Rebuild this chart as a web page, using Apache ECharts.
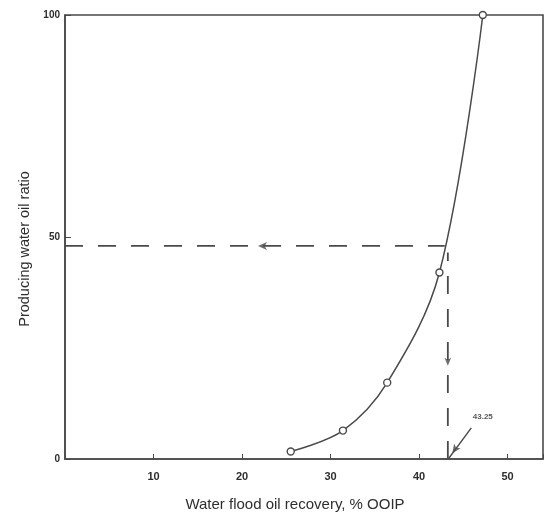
<!DOCTYPE html>
<html>
<head>
<meta charset="utf-8">
<script src="https://cdn.jsdelivr.net/npm/echarts@6/dist/echarts.min.js"></script>
<style>
html,body{margin:0;padding:0;background:#fff;}
#chart{width:547px;height:517px;}
</style>
</head>
<body>
<div id="chart"></div>
<script>
// Data
var recovery = [25.5, 31.4, 36.4, 42.3, 47.2];      // % OOIP
var wor = [1.7, 6.4, 17.2, 42.0, 100];              // producing water oil ratio
var xTicks = [10, 20, 30, 40, 50];
var yTicks = [0, 50, 100];
var readWOR = 48;                                   // dashed read-off level
var readRecovery = 43.25;                           // dashed read-off recovery
var hLine = [[0, readWOR], [42.9, readWOR]];
var vLine = [[readRecovery, 0], [readRecovery, 46.5]];
var annotText = '43.25';
var annotPos = [47.2, 9.4];
var annotLine = [[45.9, 7.0], [43.3, 0.0]];
var annotHead = [43.75, 1.3];
var hArrow = [21.8, readWOR];
var vArrow = [readRecovery, 21.0];

var ink = '#4a4a4a';
var txt = '#2e2e2e';
var chart = echarts.init(document.getElementById('chart'));
chart.setOption({
  backgroundColor: '#ffffff',
  animation: false,
  grid: {left: 65, right: 4, top: 15, bottom: 56, show: true, borderColor: ink, borderWidth: 1.6, backgroundColor: 'transparent'},
  xAxis: {
    type: 'value', min: 0, max: 54, interval: 10,
    name: 'Water flood oil recovery, % OOIP', nameLocation: 'middle', nameGap: 38,
    nameTextStyle: {fontFamily: 'Liberation Sans, Arial', fontSize: 15, color: txt, padding: [0, 18, 0, 0]},
    axisLine: {show: true, lineStyle: {color: ink, width: 1.6}},
    axisTick: {show: true, inside: true, length: 5, lineStyle: {color: ink}},
    splitLine: {show: false},
    axisLabel: {margin: 12, fontFamily: 'Liberation Sans, Arial', fontSize: 11, fontWeight: 'bold', color: txt,
      formatter: function (v) { return xTicks.indexOf(v) >= 0 ? String(v) : ''; }}
  },
  yAxis: {
    type: 'value', min: 0, max: 100, interval: 50,
    name: 'Producing water oil ratio', nameLocation: 'middle', nameGap: 33, nameRotate: 90,
    nameTextStyle: {fontFamily: 'Liberation Sans, Arial', fontSize: 14.5, color: txt, padding: [0, 24, 0, 0]},
    axisLine: {show: true, lineStyle: {color: ink, width: 1.6}},
    axisTick: {show: true, inside: true, length: 6, lineStyle: {color: ink}},
    splitLine: {show: false},
    axisLabel: {margin: 5, fontFamily: 'Liberation Sans, Arial', fontSize: 10, fontWeight: 'bold', color: txt,
      formatter: function (v) { return yTicks.indexOf(v) >= 0 ? String(v) : ''; }}
  },
  series: [
    {
      type: 'line', data: recovery.map(function (x, i) { return [x, wor[i]]; }),
      smooth: 0.35, symbol: 'circle', symbolSize: 7, showAllSymbol: true,
      itemStyle: {color: '#ffffff', borderColor: ink, borderWidth: 1.4},
      lineStyle: {color: ink, width: 1.5}, z: 5
    },
    {
      type: 'line', data: hLine, symbol: 'none',
      lineStyle: {color: ink, width: 1.8, type: [18, 15]}
    },
    {
      type: 'line', data: vLine, symbol: 'none',
      lineStyle: {color: ink, width: 1.8, type: [18, 15]}
    },
    {
      type: 'line', data: annotLine, symbol: 'none',
      lineStyle: {color: ink, width: 1.4}
    },
    {
      type: 'scatter', data: [annotHead], symbol: 'arrow', symbolSize: [6, 9], symbolRotate: 145,
      itemStyle: {color: ink}
    },
    {
      type: 'scatter', data: [hArrow], symbol: 'arrow', symbolSize: [6, 9], symbolRotate: 90,
      itemStyle: {color: ink}
    },
    {
      type: 'scatter', data: [vArrow], symbol: 'arrow', symbolSize: [5, 8], symbolRotate: 180,
      itemStyle: {color: ink}
    },
    {
      type: 'scatter', data: [annotPos], symbolSize: 0,
      label: {show: true, position: 'inside', formatter: annotText, fontFamily: 'Liberation Sans, Arial', fontSize: 8, fontWeight: 'bold', color: txt}
    }
  ]
});
</script>
</body>
</html>
